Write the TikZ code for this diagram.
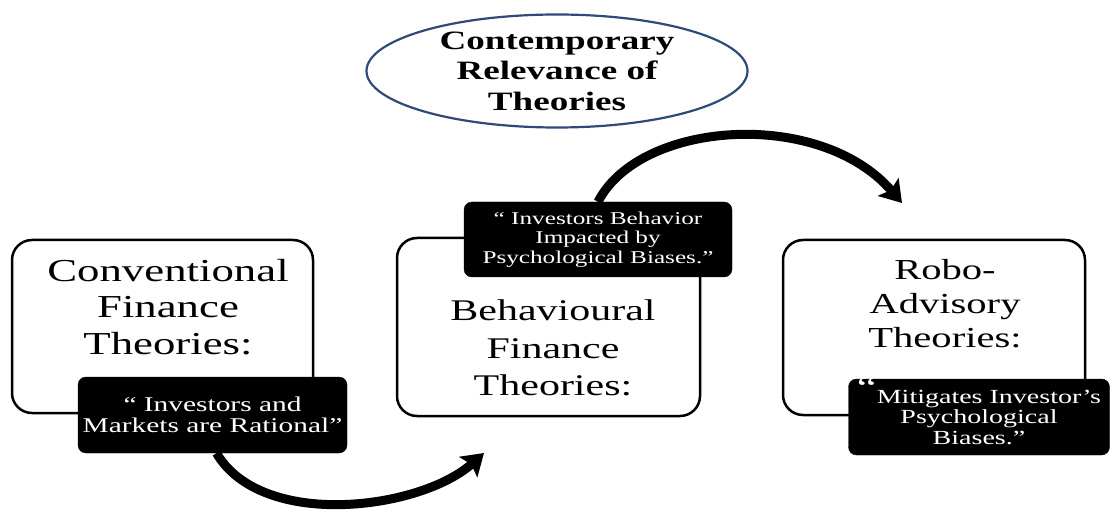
\documentclass[tikz,border=0pt]{standalone}
\usepackage{fontspec}
\setmainfont{Liberation Serif}[FakeStretch=1.4]
\usetikzlibrary{arrows.meta,backgrounds,shapes.geometric}
\definecolor{ellblue}{HTML}{2F4A78}
\begin{document}
\begin{tikzpicture}[x=1pt,y=-1pt,
  bigbox/.style={draw=black,line width=2.5pt,rounded corners=20pt,inner sep=0pt,fill=white},
  bigtext/.style={align=center,inner sep=0pt},
  quotebox/.style={fill=black,draw=black,rounded corners=8pt,inner sep=0pt,text=white,align=center},
  flowarrow/.style={line width=9pt,-{Stealth[length=21pt,width=27pt,inset=4pt]}},
  titleell/.style={ellipse,draw=ellblue,line width=2.2pt,inner sep=0pt,align=center}]
\useasboundingbox (0,0) rectangle (1110,510);

% title
\node[titleell,minimum width=381pt,minimum height=113pt,
      font=\bfseries\fontsize{26.5}{30.5}\selectfont] (title) at (557,71)
  {Contemporary\\Relevance of\\Theories};

% big boxes
\node[bigbox,minimum width=301pt,minimum height=173pt] (b1) at (162.5,326.5) {};
\node[bigbox,minimum width=303pt,minimum height=178pt] (b2) at (548.5,327) {};
\node[bigbox,minimum width=302pt,minimum height=175pt] (b3) at (934,327.5) {};

\node[bigtext,font=\fontsize{32}{36.5}\selectfont] (t1) at (168,307)
  {Conventional\\Finance\\Theories:};
\node[bigtext,font=\fontsize{30}{37.5}\selectfont] (t2) at (553,348)
  {Behavioural\\Finance\\Theories:};
\node[bigtext,font=\fontsize{29}{34}\selectfont] (t3) at (945,304)
  {Robo-\\Advisory\\Theories:};

% quote boxes
\node[quotebox,minimum width=269pt,minimum height=76pt,
      font=\fontsize{21}{21}\selectfont] (q1) at (212.5,415)
  {“ Investors and\\Markets are Rational”};
\node[quotebox,minimum width=268pt,minimum height=75pt,
      font=\fontsize{18}{19.5}\selectfont] (q2) at (598,239.5)
  {“ Investors Behavior\\Impacted by\\Psychological Biases.”};
\node[quotebox,minimum width=261pt,minimum height=76pt,
      font=\fontsize{20}{20.5}\selectfont] (q3) at (979,417)
  {\smash{\raisebox{5pt}{\fontsize{32}{32}\selectfont “}}Mitigates Investor’s\\Psychological\\Biases.”};

% arrows
\coordinate (a1end) at (484,453);
\coordinate (a2end) at (902,203);
\begin{pgfonlayer}{background}
\draw[flowarrow] ([xshift=4pt]q1.south) .. controls (262,530) and (420,510) .. (a1end);
\draw[flowarrow] (q2.north) .. controls (640,120) and (820,108) .. (a2end);
\end{pgfonlayer}
\end{tikzpicture}
\end{document}
